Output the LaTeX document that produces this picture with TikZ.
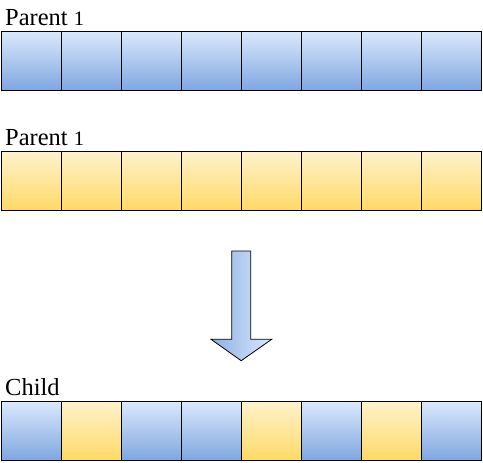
\documentclass[tikz,border=0pt]{standalone}
\usepackage{fontspec}
\setmainfont{Liberation Serif}
\definecolor{bluetop}{HTML}{DAE8FC}
\definecolor{bluebot}{HTML}{7EA6E0}
\definecolor{yeltop}{HTML}{FFF2CC}
\definecolor{yelbot}{HTML}{FFD966}
\newcommand{\osone}{{\fontsize{20.5}{20}\selectfont 1}}
\begin{document}
\begin{tikzpicture}[x=1pt,y=-1pt,
 cell/.style={draw=black, line width=1pt, minimum width=60pt, minimum height=59pt, inner sep=0pt, outer sep=0pt, anchor=north west},
 bluecell/.style={cell, top color=bluetop, bottom color=bluebot},
 yelcell/.style={cell, top color=yeltop, bottom color=yelbot},
 lbl/.style={anchor=base west, inner sep=0pt, font=\fontsize{24.5}{26}\selectfont}]
\useasboundingbox (0,0) rectangle (483,463);
\node[lbl] (l1) at (5,25) {Parent \osone};
\node[lbl] (l2) at (5,145) {Parent \osone};
\node[lbl] (l3) at (5,395) {Child};
\foreach \i in {0,...,7}{
  \node[bluecell] (a\i) at ({1.7+60*\i},31.7) {};
  \node[yelcell] (b\i) at ({1.7+60*\i},151.7) {};
}
\foreach \i/\s in {0/bluecell,1/yelcell,2/bluecell,3/bluecell,4/yelcell,5/bluecell,6/yelcell,7/bluecell}{
  \node[\s] (c\i) at ({1.7+60*\i},401.7) {};
}
\shade[draw=black, line width=0.8pt, line join=miter, left color=bluebot!85!bluetop, right color=bluetop]
  (231.7,251) -- (250.7,251) -- (250.7,339.3) -- (271.7,339.3) -- (241.2,360.7) -- (211,339.3) -- (231.7,339.3) -- cycle;
\end{tikzpicture}
\end{document}
